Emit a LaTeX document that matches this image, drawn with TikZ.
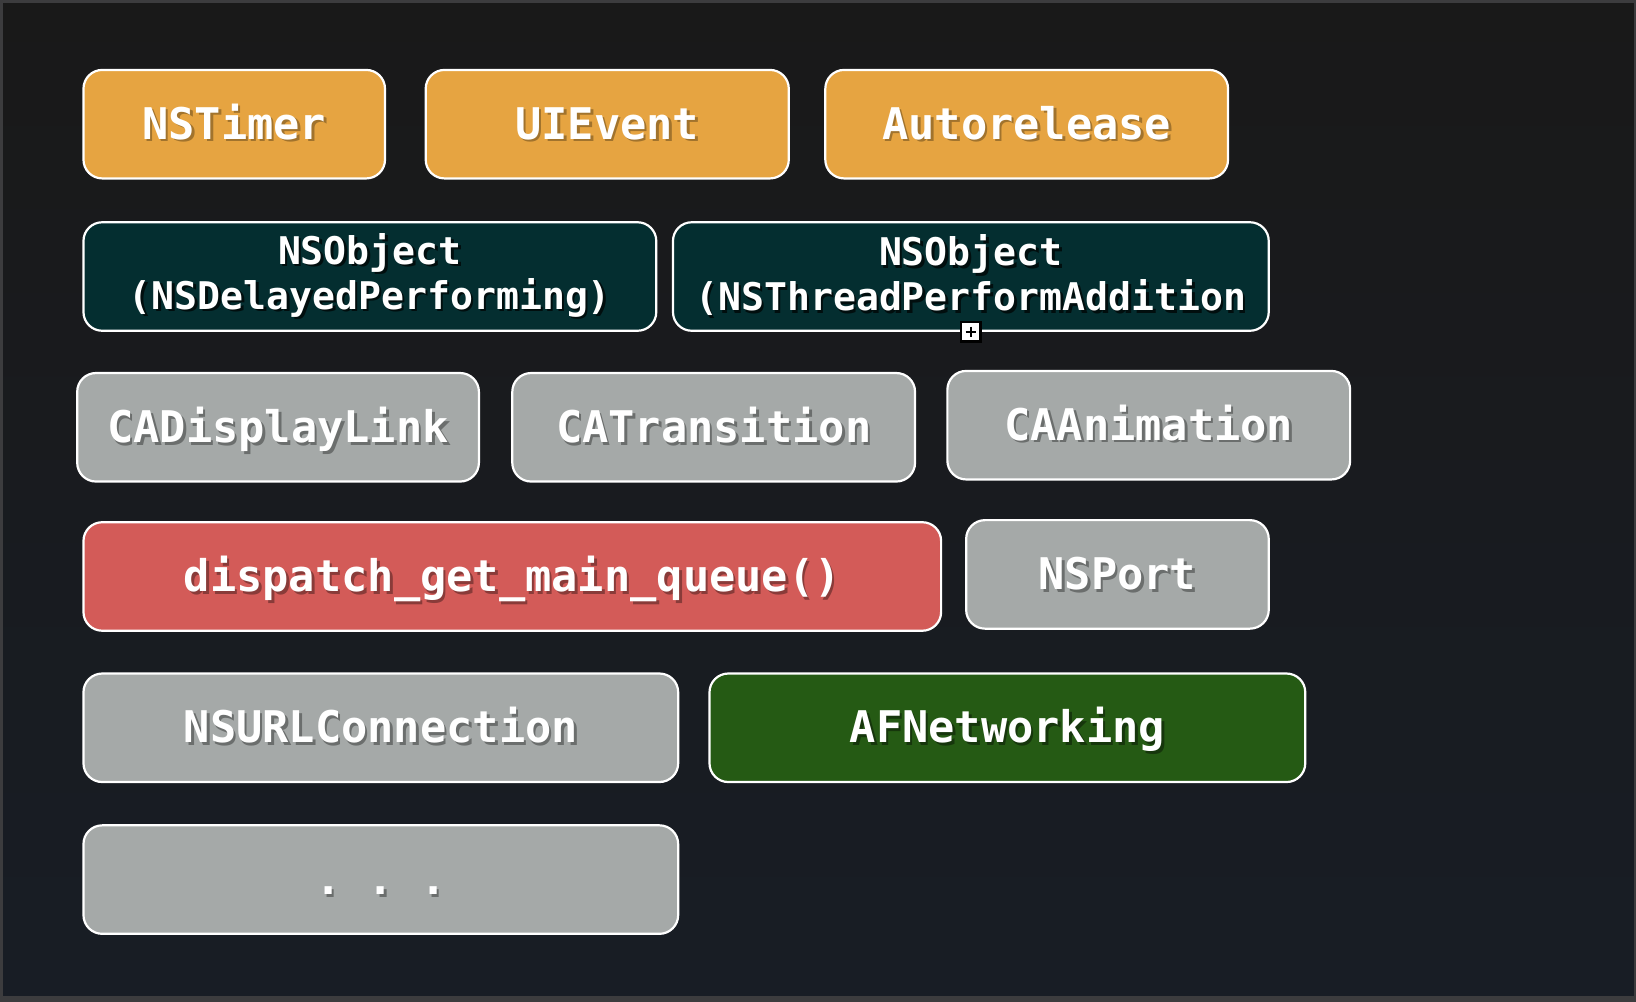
\documentclass[tikz,border=0pt]{standalone}
\usepackage{fontspec}
\newfontfamily\codefont{DejaVu Sans Mono}
\definecolor{bgtop}{RGB}{25,25,25}
\definecolor{bgbot}{RGB}{24,29,37}
\definecolor{frame}{RGB}{60,60,62}
\definecolor{rlorange}{RGB}{230,164,65}
\definecolor{rlteal}{RGB}{4,46,48}
\definecolor{rlgray}{RGB}{165,169,168}
\definecolor{rlred}{RGB}{211,91,88}
\definecolor{rlgreen}{RGB}{37,90,20}
% text with a small drop shadow
\newcommand{\sh}[1]{\rlap{\kern0.7pt\raisebox{-0.7pt}{\textcolor{shade}{#1}}}#1}
\tikzset{
    tag/.style={rounded corners=0.18cm, draw=white, line width=0.6pt, text=white,
        font=\codefont\bfseries\fontsize{11.9}{14}\selectfont, inner sep=0pt,
        text height=0.83em, text depth=0pt, minimum height=1.04cm},
    orangetag/.style={tag, fill=rlorange, execute at begin node={\colorlet{shade}{rlorange!70!black}}},
    tealtag/.style={tag, fill=rlteal, text height=, text depth=, align=center,
        font=\codefont\bfseries\fontsize{10.4}{12.3}\selectfont,
        execute at begin node={\colorlet{shade}{black!70!rlteal}}},
    graytag/.style={tag, fill=rlgray, execute at begin node={\colorlet{shade}{rlgray!65!black}}},
    redtag/.style={tag, fill=rlred, execute at begin node={\colorlet{shade}{rlred!65!black}}},
    greentag/.style={tag, fill=rlgreen, execute at begin node={\colorlet{shade}{rlgreen!60!black}}},
    handle/.style={draw=black, fill=white, line width=0.7pt, minimum size=0.19cm, inner sep=0pt,
        path picture={\draw[black, line width=0.5pt]
            ([yshift=-1.3pt]path picture bounding box.north) -- ([yshift=1.3pt]path picture bounding box.south)
            ([xshift=1.3pt]path picture bounding box.west) -- ([xshift=-1.3pt]path picture bounding box.east);}}
}
\begin{document}
\begin{tikzpicture}
    % background
    \fill[top color=bgtop, bottom color=bgbot] (0,0) rectangle (15.68,-9.60);
    \useasboundingbox (0,0) rectangle (15.68,-9.60);
    \fill[frame] (0,-9.55) rectangle (15.68,-9.60);
    \draw[frame, line width=0.8pt] (0.01,-9.55) -- (0.01,-0.01) -- (15.67,-0.01) -- (15.67,-9.55);

    % row 1
    \node[orangetag, minimum width=2.89cm] (timer) at (2.245,-1.19) {\sh{NSTimer}};
    \node[orangetag, minimum width=3.48cm] (uievent) at (5.82,-1.19) {\sh{UIEvent}};
    \node[orangetag, minimum width=3.86cm] (autorel) at (9.84,-1.19) {\sh{Autorelease}};

    % row 2
    \node[tealtag, minimum width=5.49cm] (delayed) at (3.545,-2.65)
        {\sh{NSObject}\\\sh{(NSDelayedPerforming)}};
    \node[tealtag, minimum width=5.71cm] (nsthread) at (9.305,-2.65)
        {\sh{NSObject}\\\sh{(NSThreadPerformAddition}};
    \node[handle] (grip) at (nsthread.south) {};

    % row 3
    \node[graytag, minimum width=3.85cm] (displink) at (2.665,-4.095) {\sh{CADisplayLink}};
    \node[graytag, minimum width=3.86cm] (transition) at (6.84,-4.095) {\sh{CATransition}};
    \node[graytag, minimum width=3.86cm] (animation) at (11.01,-4.075) {\sh{CAAnimation}};

    % row 4
    \node[redtag, minimum width=8.22cm] (mainqueue) at (4.91,-5.525) {\sh{dispatch\_get\_main\_queue()}};
    \node[graytag, minimum width=2.90cm] (nsport) at (10.71,-5.505) {\sh{NSPort}};

    % row 5
    \node[graytag, minimum width=5.70cm] (urlconn) at (3.65,-6.975) {\sh{NSURLConnection}};
    \node[greentag, minimum width=5.71cm] (afnet) at (9.655,-6.975) {\sh{AFNetworking}};

    % row 6
    \node[graytag, minimum width=5.70cm] (more) at (3.65,-8.43) {\sh{.\kern0.6em.\kern0.6em.}};
\end{tikzpicture}
\end{document}
